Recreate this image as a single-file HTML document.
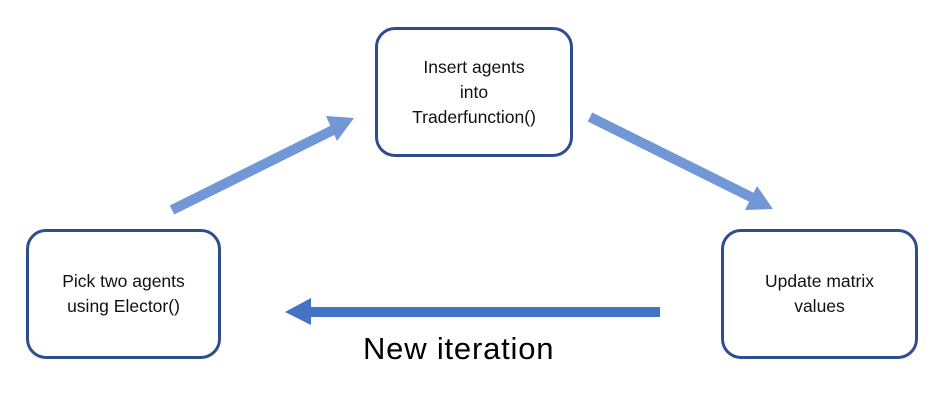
<!DOCTYPE html>
<html><head><style>
body{margin:0;width:947px;height:403px;background:#fff;overflow:hidden;position:relative;font-family:"Liberation Sans",sans-serif}
.b{position:absolute;border:3.5px solid #2f4d8c;border-radius:20px;box-sizing:border-box;display:flex;align-items:center;justify-content:center;text-align:center;font-size:17.5px;line-height:25px;color:#111}
</style></head><body>
<svg width="947" height="403" style="position:absolute;left:0;top:0">
<line x1="172" y1="210" x2="335" y2="129" stroke="#7297d6" stroke-width="10"/>
<polygon points="354,118 326,116 337,141" fill="#7297d6"/>
<line x1="590" y1="117" x2="755" y2="199" stroke="#7297d6" stroke-width="10"/>
<polygon points="773,209 745,210 757,186" fill="#7297d6"/>
<line x1="660" y1="312" x2="305" y2="312" stroke="#4472c4" stroke-width="10"/>
<polygon points="285,312 311,298 311,325" fill="#4472c4"/>
</svg>
<div class="b" style="left:375px;top:27px;width:198px;height:130px">Insert agents<br>into<br>Traderfunction()</div>
<div class="b" style="left:26px;top:229px;width:195px;height:130px">Pick two agents<br>using Elector()</div>
<div class="b" style="left:721px;top:229px;width:197px;height:130px">Update matrix<br>values</div>
<div style="position:absolute;left:363px;top:331px;font-size:31px;letter-spacing:0.8px;color:#000">New iteration</div>
</body></html>
